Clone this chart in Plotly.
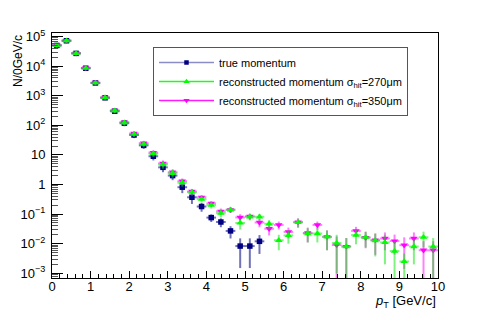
import plotly.graph_objects as go

# bin centres (GeV/c), bin width 0.25
pt = [0.125 + 0.25 * i for i in range(40)]
half_width = [0.125] * 40

true_vals = [5.0e4, 7.2e4, 2.7e4, 8.5e3, 2.7e3, 850, 300, 118, 47, 21, 9.0, 3.8, 2.0, 0.81,
             0.37, 0.18, 0.076, 0.054, 0.027, 0.0083, 0.0083, 0.012]
true_err = [900, 1100, 650, 350, 200, 100, 50, 25, 10, 5, 2.5, 1.2, 0.6, 0.3,
            0.15, 0.06, 0.022, 0.018, 0.012, 0.0068, 0.0068, 0.0075]

reco270_vals = [5.0e4, 7.2e4, 2.7e4, 8.5e3, 2.7e3, 870, 310, 122, 50, 23, 11, 4.7, 2.4, 1.15,
                0.55, 0.32, 0.2, 0.107, 0.14, 0.05, 0.081, 0.081, 0.047, 0.013, 0.019, 0.052,
                0.022, 0.022, 0.017, 0.0105, 0.008, 0.0195, 0.0165, 0.0127, 0.011, 0.0056,
                0.0025, 0.008, 0.0165, 0.008]
reco270_err = [900, 1100, 650, 350, 200, 100, 50, 25, 10, 5, 2.5, 1.3, 0.7, 0.3,
               0.13, 0.07, 0.045, 0.03, 0.03, 0.02, 0.02, 0.02, 0.015, 0.007, 0.009, 0.018,
               0.011, 0.011, 0.011, 0.0095, 0.0075, 0.01, 0.009, 0.009, 0.009, 0.0065,
               0.0022, 0.006, 0.009, 0.0075]

reco350_vals = [5.2e4, 7.3e4, 2.75e4, 8.7e3, 2.8e3, 880, 320, 128, 53, 25, 12, 5.2, 2.6, 1.3,
                0.58, 0.37, 0.23, 0.124, 0.14, 0.077, 0.084, 0.052, 0.032, 0.043, 0.025, 0.054,
                0.023, 0.043, 0.017, 0.009, 0.008, 0.027, 0.016, 0.0132, 0.015, 0.0123,
                0.0089, 0.015, 0.006, 0.006]
reco350_err = [900, 1100, 650, 350, 200, 100, 50, 25, 10, 5, 2.5, 1.3, 0.7, 0.3,
               0.13, 0.07, 0.045, 0.03, 0.03, 0.022, 0.02, 0.016, 0.013, 0.013, 0.01, 0.018,
               0.012, 0.013, 0.011, 0.0085, 0.0075, 0.01, 0.009, 0.009, 0.009, 0.008,
               0.0075, 0.009, 0.006, 0.006]

legend_names = ["true momentum",
                "reconstructed momentum σ<sub>hit</sub>=270μm",
                "reconstructed momentum σ<sub>hit</sub>=350μm"]

y_tickvals = [1e-3, 1e-2, 1e-1, 1, 10, 1e2, 1e3, 1e4, 1e5]
y_ticktext = ["10<sup>−3</sup>", "10<sup>−2</sup>", "10<sup>−1</sup>", "1", "10",
              "10<sup>2</sup>", "10<sup>3</sup>", "10<sup>4</sup>", "10<sup>5</sup>"]
y_minor = [m * 10 ** e for e in range(-4, 6) for m in range(2, 10)]

series = [
    (true_vals, true_err, "#000080", "rgba(20,20,140,0.6)", "rgba(0,0,128,0.45)", "square", 5.5),
    (reco270_vals, reco270_err, "#00ff00", "rgba(0,230,0,0.5)", "rgba(0,255,0,0.9)", "triangle-up", 6.5),
    (reco350_vals, reco350_err, "#ff00ff", "rgba(255,0,255,0.5)", "rgba(255,0,255,0.9)", "triangle-down", 6.5),
]

fig = go.Figure()
# drawing order: true, then 350um, then 270um on top
for idx in [0, 2, 1]:
    vals, err, mcol, ecol, lcol, sym, msz = series[idx]
    n = len(vals)
    fig.add_trace(go.Scatter(
        x=pt[:n], y=vals, mode="markers",
        marker=dict(symbol=sym, size=msz, color=mcol, line=dict(width=0)),
        error_y=dict(type="data", array=err, color=ecol, thickness=2, width=0),
        error_x=dict(type="data", array=half_width[:n], color=ecol, thickness=2, width=0),
        showlegend=False, hoverinfo="skip",
    ))

for idx in [0, 1, 2]:
    vals, err, mcol, ecol, lcol, sym, msz = series[idx]
    fig.add_trace(go.Scatter(
        x=[None], y=[None], mode="lines+markers", name=legend_names[idx],
        line=dict(color=lcol, width=1.5),
        marker=dict(symbol=sym, size=msz - 1, color=mcol),
    ))

axis_font = dict(family="Liberation Sans, Arial, sans-serif", size=13, color="black")

fig.update_layout(
    width=491, height=312,
    margin=dict(l=52, r=53, t=33, b=34),
    paper_bgcolor="white", plot_bgcolor="white",
    font=axis_font,
    showlegend=True,
    legend=dict(
        x=(153 - 52) / 386, y=1 - (47 - 33) / 245, xanchor="left", yanchor="top",
        bgcolor="white", bordercolor="#555555", borderwidth=1,
        font=dict(family="Liberation Sans, Arial, sans-serif", size=11, color="black"),
        tracegroupgap=0, itemwidth=55,
    ),
    xaxis=dict(
        range=[0, 10], showgrid=False, zeroline=False,
        showline=True, linecolor="black", linewidth=1, mirror=True,
        ticks="inside", ticklen=7, tickcolor="black", tickwidth=1,
        tickvals=list(range(11)), tickfont=axis_font, ticklabelstandoff=-4,
        minor=dict(dtick=0.2, ticks="inside", ticklen=4, tickcolor="black", tickwidth=1, showgrid=False),
    ),
    yaxis=dict(
        type="log", range=[-3.16, 5.12], showgrid=False, zeroline=False,
        showline=True, linecolor="black", linewidth=1, mirror=True,
        ticks="inside", ticklen=11, tickcolor="black", tickwidth=1,
        tickmode="array", tickvals=y_tickvals, ticktext=y_ticktext, tickfont=axis_font,
        ticklabelstandoff=3,
        minor=dict(tickmode="array", tickvals=y_minor, ticks="inside", ticklen=6,
                   tickcolor="#555555", tickwidth=1, showgrid=False),
    ),
    annotations=[
        dict(text="N/0GeV/c", textangle=-90, xref="paper", yref="paper",
             x=(18 - 52) / 386, y=1.0, xanchor="center", yanchor="top",
             showarrow=False, font=dict(family="Liberation Sans, Arial, sans-serif", size=12, color="black")),
        dict(text="<i>p</i><sub>T</sub> [GeV/c]", xref="paper", yref="paper",
             x=1.0, y=(278 - 301) / 245, xanchor="right", yanchor="middle",
             showarrow=False, font=axis_font),
    ],
)

fig.write_html("out.html", post_script="document.body.style.margin='0';",
               config={"displayModeBar": False})
